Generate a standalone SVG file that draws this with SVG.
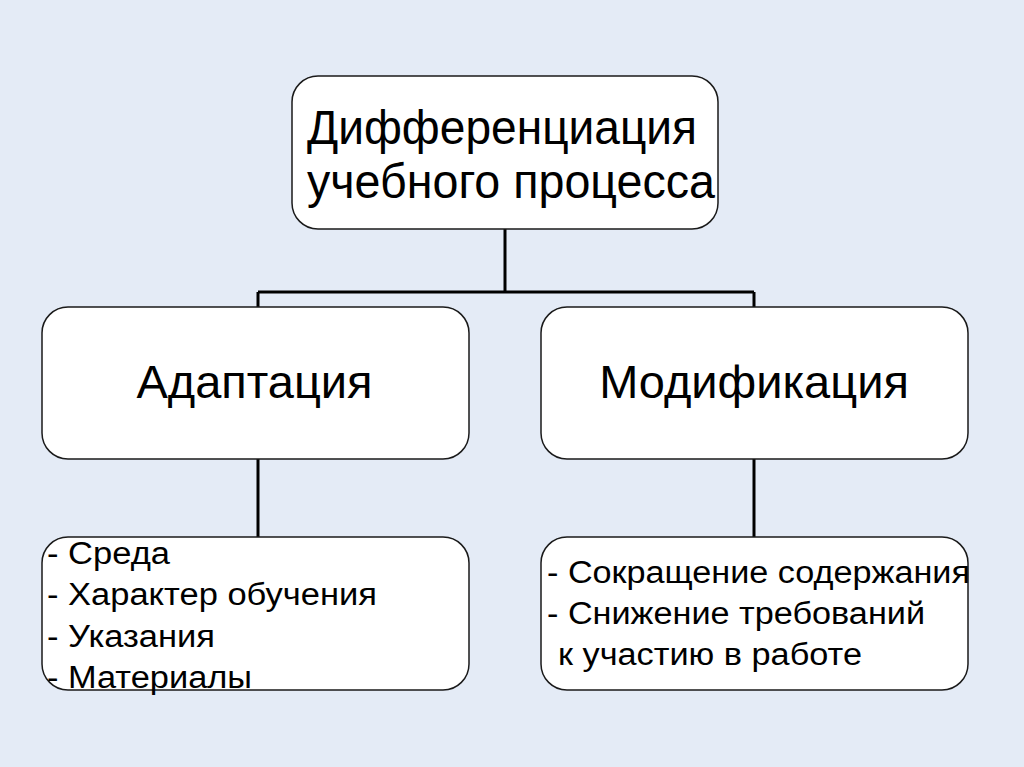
<svg xmlns="http://www.w3.org/2000/svg" width="1024" height="767" viewBox="0 0 1024 767">
<style>
.box{fill:#ffffff;stroke:#1a1a1a;stroke-width:1.5}
.ln{stroke:#000;stroke-width:3;fill:none}
.t{font-family:"Liberation Sans",Arial,sans-serif;fill:#000}
.big{font-size:49px}
.mid{font-size:47px}
.sm{font-size:31px}
</style>
<rect x="0" y="0" width="1024" height="767" fill="#e4ebf6"/>
<g id="connectors">
<path class="ln" d="M505 229 V292 M258 292 H754 M258 292 V307 M754 292 V307"/>
<path class="ln" d="M258 459 V537"/>
<path class="ln" d="M754 459 V537"/>
</g>
<g id="root">
<rect class="box" x="292" y="76" width="426" height="153" rx="26"/>
<text class="t big" x="307" y="144" textLength="390" lengthAdjust="spacingAndGlyphs">Дифференциация</text>
<text class="t big" x="307" y="198" textLength="408" lengthAdjust="spacingAndGlyphs">учебного процесса</text>
</g>
<g id="adaptation">
<rect class="box" x="42" y="307" width="427" height="152" rx="26"/>
<text class="t mid" x="254.5" y="398" text-anchor="middle">Адаптация</text>
</g>
<g id="modification">
<rect class="box" x="541" y="307" width="427" height="152" rx="26"/>
<text class="t mid" x="754" y="398" text-anchor="middle">Модификация</text>
</g>
<g id="adaptation-list">
<rect class="box" x="42" y="537" width="427" height="153" rx="26"/>
<text class="t sm" x="47" y="564" textLength="123" lengthAdjust="spacingAndGlyphs">- Среда</text>
<text class="t sm" x="47" y="605" textLength="330" lengthAdjust="spacingAndGlyphs">- Характер обучения</text>
<text class="t sm" x="47" y="647" textLength="168" lengthAdjust="spacingAndGlyphs">- Указания</text>
<text class="t sm" x="47" y="688" textLength="205" lengthAdjust="spacingAndGlyphs">- Материалы</text>
</g>
<g id="modification-list">
<rect class="box" x="541" y="537" width="427" height="153" rx="26"/>
<text class="t sm" x="547" y="583" textLength="423" lengthAdjust="spacingAndGlyphs">- Сокращение содержания</text>
<text class="t sm" x="547" y="624" textLength="378" lengthAdjust="spacingAndGlyphs">- Снижение требований</text>
<text class="t sm" x="558" y="665" textLength="304" lengthAdjust="spacingAndGlyphs">к участию в работе</text>
</g>
</svg>
